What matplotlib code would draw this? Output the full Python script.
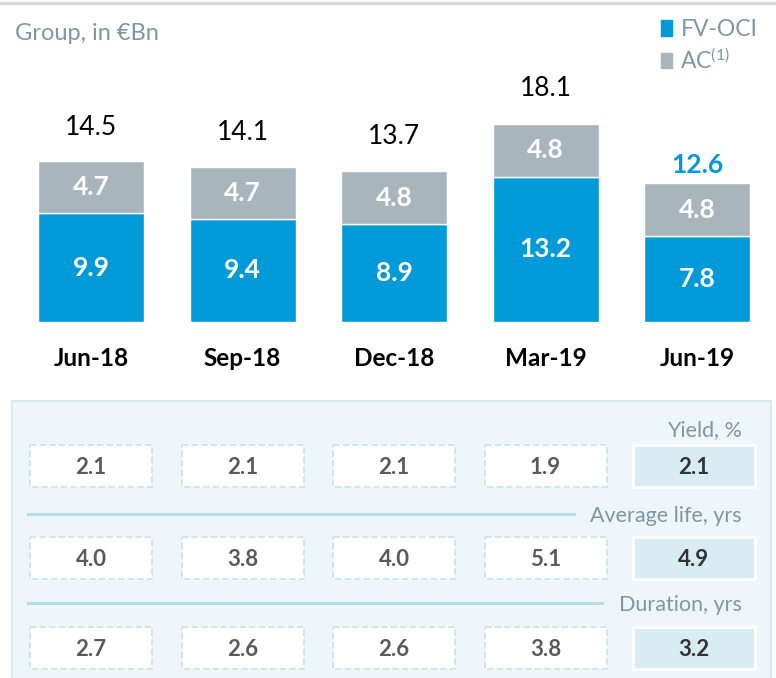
import matplotlib
matplotlib.use("Agg")
import matplotlib.pyplot as plt
from matplotlib.patches import Rectangle, Patch
from matplotlib.lines import Line2D
import numpy as np

categories = ["Jun-18", "Sep-18", "Dec-18", "Mar-19", "Jun-19"]
fv_oci = [9.9, 9.4, 8.9, 13.2, 7.8]
ac = [4.7, 4.7, 4.8, 4.8, 4.8]
totals = [14.5, 14.1, 13.7, 18.1, 12.6]
yield_pct = [2.1, 2.1, 2.1, 1.9, 2.1]
avg_life = [4.0, 3.8, 4.0, 5.1, 4.9]
duration = [2.7, 2.6, 2.6, 3.8, 3.2]
metric_labels = ["Yield, %", "Average life, yrs", "Duration, yrs"]
legend_labels = ["FV-OCI", "AC$^{(1)}$"]
title = "Group, in €Bn"

plt.rcParams['font.family'] = ['Lato', 'DejaVu Sans']
plt.rcParams['mathtext.fontset'] = 'custom'
plt.rcParams['mathtext.rm'] = 'Lato'
plt.rcParams['mathtext.default'] = 'regular'

BLUE = "#009ad8"
GRAY = "#a9b5bc"
TXT = "#7e97a6"
PANEL = "#eef6f9"
PANEL_EDGE = "#d6eaf1"
LINEC = "#b5dbe7"
DASH = "#cfe3eb"
FILL = "#d9ecf3"

W, H = 776, 678
fig = plt.figure(figsize=(W / 100, H / 100), dpi=100)

x = np.arange(len(categories))
step = 151.5
c0 = 91
xl = (-c0 / step, (W - c0) / step)

def px2x(p):
    return p / step + xl[0]

# decoration / table axes (y in pixels from top)
tax = fig.add_axes([0, 0, 1, 1])
tax.set_xlim(xl)
tax.set_ylim(H, 0)
tax.axis('off')

# top gray line
tax.add_line(Line2D([xl[0], xl[1]], [3, 3], color="#d9d9d9", lw=2.4))

# panel
tax.add_patch(Rectangle((px2x(12), 401), (771 - 12) / step, 300,
                        facecolor=PANEL, edgecolor=PANEL_EDGE, lw=1.5))

rows = [yield_pct, avg_life, duration]
row_y = [466, 558, 648]
label_y = [430, 516, 605]
line_end = [None, 574, 602]
bw = 122 / step
bh = 42
for r, (vals, yc, ly, le, lab) in enumerate(zip(rows, row_y, label_y, line_end, metric_labels)):
    tax.text(px2x(742), ly, lab, ha='right', va='center', color=TXT, fontsize=15.5)
    if le is not None:
        tax.add_line(Line2D([px2x(28), px2x(le)], [ly - 2, ly - 2], color=LINEC, lw=2.2))
    for i, v in enumerate(vals):
        last = i == len(vals) - 1
        if last:
            tax.add_patch(Rectangle((x[i] - bw / 2 - 0.02, yc - bh / 2), bw, bh,
                                    facecolor=FILL, edgecolor='white', lw=2))
            tax.text(x[i] - 0.02, yc + 1, f"{v:.1f}", ha='center', va='center',
                     color="#333333", fontsize=16, fontweight='bold')
        else:
            tax.add_patch(Rectangle((x[i] - bw / 2, yc - bh / 2), bw, bh,
                                    facecolor='white', edgecolor=DASH, lw=1.3, ls='--'))
            tax.text(x[i], yc + 1, f"{v:.1f}", ha='center', va='center',
                     color="#5a5a5a", fontsize=16, fontweight='bold')

# bar axes
base_px = 322
ppu = 11.0
ax = fig.add_axes([0, (H - base_px) / H, 1, base_px / H])
ax.set_xlim(xl)
ax.set_ylim(0, base_px / ppu)
ax.axis('off')
ax.patch.set_alpha(0)

bw_bar = 106 / step
ax.bar(x, fv_oci, width=bw_bar, color=BLUE, edgecolor='white', lw=1)
ax.bar(x, ac, bottom=fv_oci, width=bw_bar, color=GRAY, edgecolor='white', lw=1)

for i in range(len(categories)):
    ax.text(x[i], fv_oci[i] / 2, f"{fv_oci[i]:.1f}", ha='center', va='center',
            color='white', fontsize=19, fontweight='bold')
    ax.text(x[i], fv_oci[i] + ac[i] / 2, f"{ac[i]:.1f}", ha='center', va='center',
            color='white', fontsize=19, fontweight='bold')
    last = i == len(categories) - 1
    ax.annotate(f"{totals[i]:.1f}", (x[i], totals[i]), xytext=(0, 13 if last else 25),
                textcoords='offset points', ha='center', va='center',
                color=BLUE if last else 'black', fontsize=19,
                fontweight='bold' if last else 'normal', annotation_clip=False)
    ax.annotate(categories[i], (x[i], 0), xytext=(0, -26), textcoords='offset points',
                ha='center', va='center', color='black', fontsize=17.5,
                fontweight='bold', annotation_clip=False)

fig.text(15 / W, 1 - 33 / H, title, color=TXT, fontsize=17, va='center', ha='left')

fig.legend(handles=[Patch(color=BLUE), Patch(color=GRAY)], labels=legend_labels,
           loc='upper left', bbox_to_anchor=(661 / W, 1 - 19 / H), frameon=False,
           labelcolor=TXT, fontsize=16.5, handlelength=0.5, handleheight=0.65,
           handletextpad=0.35, labelspacing=0.3, borderpad=0, borderaxespad=0)

fig.savefig("out.png", dpi=100)
